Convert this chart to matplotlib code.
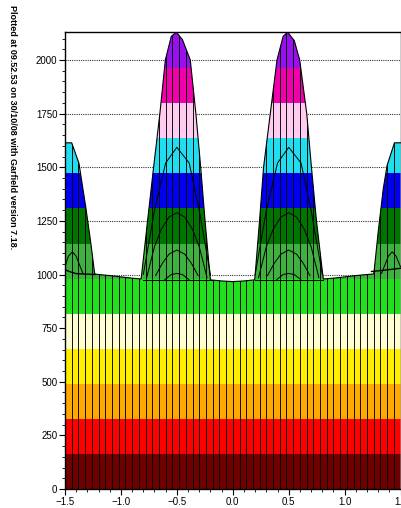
import numpy as np
import matplotlib
matplotlib.use("Agg")
import matplotlib.pyplot as plt
from matplotlib.patches import Polygon
from matplotlib.ticker import MultipleLocator

plt.rcParams['font.family'] = ['Liberation Sans', 'DejaVu Sans']

# ---------------------------------------------
# Potential profile (outer envelope of surface)
# ---------------------------------------------
env_x = [-1.5, -1.44, -1.375, -1.315, -1.27, -1.235, -1.23,
         -1.2, -1.1, -1.0, -0.9, -0.82,
         -0.815, -0.762, -0.708, -0.652, -0.603, -0.55, -0.505, -0.45,
         -0.38, -0.33, -0.287, -0.248, -0.205, -0.2,
         -0.1, 0.0, 0.1,
         0.195, 0.2, 0.239, 0.275, 0.335, 0.395, 0.45, 0.49, 0.55,
         0.598, 0.661, 0.703, 0.748, 0.804, 0.81,
         0.9, 1.0, 1.1, 1.2, 1.255,
         1.262, 1.30, 1.345, 1.38, 1.445, 1.5]
env_v = [1614, 1614, 1518, 1316, 1150, 1005, 1002,
         1000, 995, 989, 983, 979,
         1000, 1250, 1500, 1750, 2000, 2110, 2130, 2095,
         2000, 1750, 1500, 1250, 1000, 975,
         970, 967, 970,
         975, 1000, 1250, 1500, 1750, 2000, 2110, 2130, 2090,
         2000, 1750, 1500, 1250, 1000, 979,
         983, 989, 995, 1000, 1002,
         1010, 1200, 1400, 1510, 1614, 1614]

# slices through the wire cells (offset from wire, potential)
wire_x = [-0.5, 0.5]
slice_a_dx = [-0.30, -0.20, -0.10, 0.0, 0.11, 0.20, 0.30]
slice_a_v = [1000, 1300, 1520, 1593, 1520, 1300, 1000]
slice_b_dx = [-0.27, -0.20, -0.14, -0.07, 0.0, 0.07, 0.14, 0.20, 0.27]
slice_b_v = [985, 1130, 1210, 1268, 1288, 1268, 1210, 1130, 985]
slice_c_dx = [-0.19, -0.13, -0.07, 0.0, 0.07, 0.13, 0.19]
slice_c_v = [995, 1052, 1095, 1114, 1095, 1052, 995]
slice_d_dx = [-0.11, -0.05, 0.0, 0.05, 0.11]
slice_d_v = [975, 1000, 1005, 1000, 975]
slice_base_dx = [-0.30, 0.31]
slice_base_v = [975, 975]

# slices near the edge wires
left_x = [-1.5, -1.47, -1.434, -1.40, -1.34]
left_v = [1035, 1085, 1106, 1085, 1005]
left_low_x = [-1.5, -1.45, -1.40, -1.23]
left_low_v = [1022, 1012, 1004, 1000]
right_x = [1.33, 1.39, 1.425, 1.46, 1.5]
right_v = [1005, 1085, 1106, 1085, 1035]
right_low_x = [1.24, 1.35, 1.5]
right_low_v = [1014, 1020, 1029]

# contour levels and colours
levels = [0, 163, 327, 490, 654, 817, 981, 1144, 1308, 1471, 1635, 1798, 1962, 2140]
band_colors = ['#6e0000', '#ff0000', '#ffaa00', '#ffee00', '#ffffd2', '#22e01e',
               '#40b040', '#007400', '#0000ee', '#22ddee', '#ffccf0', '#ee00aa', '#9910ee']

# ---------------------------------------------
# Figure
# ---------------------------------------------
fig = plt.figure(figsize=(4.01, 5.08), dpi=100)
ax = fig.add_axes([65 / 401, 19 / 508, 335.6 / 401, 457.3 / 508])
ax.set_xlim(-1.5, 1.5)
ax.set_ylim(0, 2132)

verts = list(zip(env_x, env_v)) + [(1.5, 0), (-1.5, 0)]
surf = Polygon(verts, closed=True, transform=ax.transData,
               facecolor='none', edgecolor='none')
ax.add_patch(surf)

for lo, hi, c in zip(levels[:-1], levels[1:], band_colors):
    band = ax.axhspan(lo, hi, color=c, lw=0, zorder=2)
    band.set_clip_path(surf)

mesh_x = np.linspace(-1.5, 1.5, 51)
mesh = ax.vlines(mesh_x, 0, 2140, colors='black', lw=0.65, zorder=3)
mesh.set_clip_path(surf)

line_kw = dict(color='black', lw=0.7, zorder=4)
for w in wire_x:
    for dx, v in [(slice_a_dx, slice_a_v), (slice_b_dx, slice_b_v),
                  (slice_c_dx, slice_c_v), (slice_d_dx, slice_d_v),
                  (slice_base_dx, slice_base_v)]:
        ax.plot(np.array(dx) + w, v, **line_kw)
ax.plot(left_x, left_v, **line_kw)
ax.plot(left_low_x, left_low_v, color='black', lw=1.0, zorder=4)
ax.plot(right_x, right_v, **line_kw)
ax.plot(right_low_x, right_low_v, color='black', lw=1.0, zorder=4)
ax.plot(env_x, env_v, color='black', lw=0.8, zorder=5)

# axes cosmetics
ax.yaxis.set_major_locator(MultipleLocator(250))
ax.yaxis.set_minor_locator(MultipleLocator(50))
ax.xaxis.set_major_locator(MultipleLocator(0.5))
ax.xaxis.set_minor_locator(MultipleLocator(0.1))
ax.tick_params(which='major', direction='out', length=4, width=0.8,
               labelsize=7, pad=1.5)
ax.tick_params(which='minor', direction='out', length=2, width=0.6)
ax.grid(axis='y', which='major', color='#333333', lw=0.8, ls=(0, (1, 1)))
for s in ax.spines.values():
    s.set_linewidth(1.0)

fig.text(12 / 401, 1 - 5 / 508,
         "Plotted at 09.52.53 on 30/10/08 with Garfield version 7.18.",
         rotation=-90, ha='center', va='top', fontsize=6.5, weight='bold')

fig.savefig("out.png", dpi=100)
